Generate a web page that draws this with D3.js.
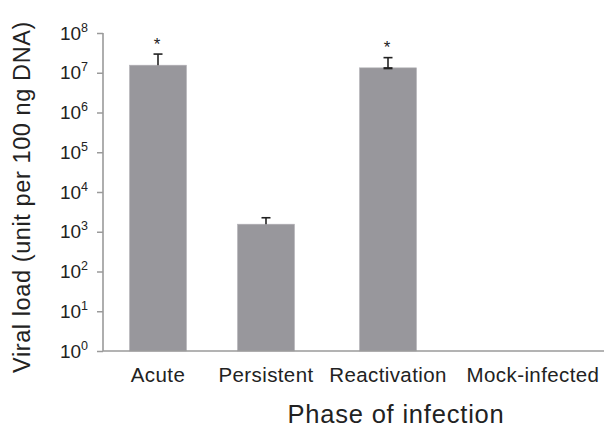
<!DOCTYPE html>
<html>
<head>
<meta charset="utf-8">
<script src="https://cdn.jsdelivr.net/npm/d3@7"></script>
<style>
  html, body { margin: 0; padding: 0; background: #fff; }
  svg { display: block; font-family: "Liberation Sans", Arial, Helvetica, sans-serif; }
</style>
</head>
<body>
<svg id="chart" width="604" height="428"></svg>
<script>
// Viral load per infection phase (unit per 100 ng DNA)
const phases = ["Acute", "Persistent", "Reactivation", "Mock-infected"];
const viralLoad = [1.55e7, 1.55e3, 1.33e7, null];
const errorUpper = [2.95e7, 2.25e3, 2.4e7, null];
const errorLower = [null, null, 1.3e7, null];
const significant = [true, false, true, false];
const yTickExponents = [0, 1, 2, 3, 4, 5, 6, 7, 8];
const yTitle = "Viral load (unit per 100 ng DNA)";
const xTitle = "Phase of infection";

const svg = d3.select("#chart");
const axisX = 103, baseY = 351, topY = 33, rightX = 604;
const barWidth = 57;

const y = d3.scaleLog().domain([1, 1e8]).range([baseY, topY]);
// category centres: spaced so the long labels do not collide
const x = d3.scaleOrdinal().domain(phases).range([158, 266, 388, 533]);

const axisColor = "#9a9a9a";
const barColor = "#98979c";
const inkColor = "#222222";

const rows = phases.map((p, i) => ({
  phase: p, v: viralLoad[i], hi: errorUpper[i], lo: errorLower[i], sig: significant[i]
}));
const withData = rows.filter(d => d.v != null);

// bars
svg.append("g").selectAll("rect")
  .data(withData)
  .join("rect")
  .attr("x", d => x(d.phase) - barWidth / 2)
  .attr("width", barWidth)
  .attr("y", d => y(d.v))
  .attr("height", d => y(1) - y(d.v))
  .attr("fill", barColor)
  .attr("stroke", "#b4b3b8")
  .attr("stroke-width", 0.6);

// error bars
const capW = 9;
const eb = svg.append("g").attr("stroke", inkColor).attr("stroke-width", 1.6);
withData.forEach(d => {
  const cx = x(d.phase);
  const yTop = y(d.hi);
  const yBot = d.lo != null ? y(d.lo) : y(d.v);
  eb.append("line").attr("x1", cx).attr("x2", cx).attr("y1", yTop).attr("y2", yBot);
  eb.append("line").attr("x1", cx - capW / 2).attr("x2", cx + capW / 2).attr("y1", yTop).attr("y2", yTop);
  if (d.lo != null) {
    eb.append("line").attr("x1", cx - capW / 2).attr("x2", cx + capW / 2)
      .attr("y1", yBot).attr("y2", yBot).attr("stroke-width", 2.2);
  }
});

// significance markers
svg.append("g").selectAll("text")
  .data(withData.filter(d => d.sig))
  .join("text")
  .attr("x", d => x(d.phase) - 1)
  .attr("y", d => y(d.hi) - 4.5)
  .attr("text-anchor", "middle")
  .attr("font-size", 17)
  .attr("fill", inkColor)
  .text("*");

// y axis
const yAxisG = svg.append("g").attr("transform", `translate(${axisX},0)`)
  .call(d3.axisLeft(y)
    .tickValues(yTickExponents.map(e => Math.pow(10, e)))
    .tickSize(6)
    .tickFormat(() => ""));
yAxisG.select(".domain").remove();
yAxisG.selectAll(".tick line").attr("stroke", axisColor).attr("stroke-width", 1.5);
yAxisG.append("line")
  .attr("x1", 0).attr("x2", 0)
  .attr("y1", y(1e8)).attr("y2", baseY)
  .attr("stroke", axisColor).attr("stroke-width", 1.6);

// tick labels: 10 with a superscript exponent
const tickLab = svg.append("g");
yTickExponents.forEach(e => {
  const t = tickLab.append("text")
    .attr("x", 88)
    .attr("y", y(Math.pow(10, e)) + 6.5)
    .attr("text-anchor", "end")
    .attr("fill", inkColor)
    .attr("font-size", 19);
  t.append("tspan").text("10");
  t.append("tspan").attr("font-size", 12.5).attr("dy", -8).text(String(e));
});

// x axis line
svg.append("line")
  .attr("x1", axisX).attr("x2", rightX)
  .attr("y1", baseY).attr("y2", baseY)
  .attr("stroke", axisColor).attr("stroke-width", 1.6);

// category labels
svg.append("g").selectAll("text")
  .data(phases)
  .join("text")
  .attr("x", d => x(d))
  .attr("y", 382)
  .attr("text-anchor", "middle")
  .attr("font-size", 20.5)
  .attr("letter-spacing", 0.4)
  .attr("fill", inkColor)
  .text(d => d);

// axis titles
svg.append("text")
  .attr("x", 396)
  .attr("y", 423)
  .attr("text-anchor", "middle")
  .attr("font-size", 25.5)
  .attr("letter-spacing", 0.8)
  .attr("fill", inkColor)
  .text(xTitle);

svg.append("text")
  .attr("transform", "translate(30,197) rotate(-90)")
  .attr("text-anchor", "middle")
  .attr("font-size", 23.5)
  .attr("letter-spacing", 0.6)
  .attr("fill", inkColor)
  .text(yTitle);
</script>
</body>
</html>
